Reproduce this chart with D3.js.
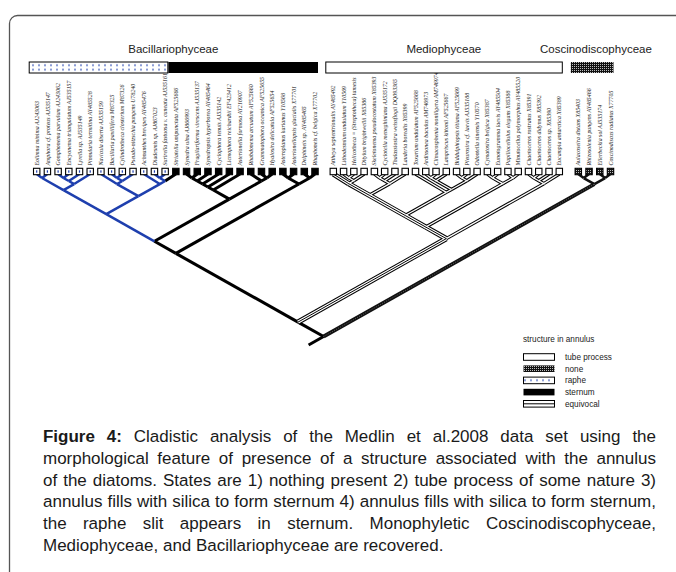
<!DOCTYPE html>
<html><head><meta charset="utf-8">
<script src="https://cdn.jsdelivr.net/npm/d3@7"></script>
<style>body{margin:0;background:#fff}svg{display:block}</style>
</head><body>
<svg id="c" width="676" height="572"></svg>
<script>
// ---------------- DATA ----------------
const groupNames = ["Bacillariophyceae", "Mediophyceae", "Coscinodiscophyceae"];
const bacillariophyceae = [
 "Eolimna minima AJ243063","Amphora cf. proteus AJ535147","Gomphonema parvulum AJ243062",
 "Encyonema triangulatum AJ535157","Lyrella sp. AJ535149","Pinnularia termitina AY485528",
 "Navicula diserta AJ535159","Bacillaria paxillifera M87325","Cylindrotheca closterium M87326",
 "Pseudo-nitzschia pungens U78240","Achnanthes brevipes AY485476","Diadesmis sp. AJ867023",
 "Surirella fastuosa v. cuneata AJ535161","Striatella unipunctata AF525666","Synedra ulna AJ866993",
 "Fragilariforma virescens AJ535137","Synedropsis hyperborea AY485464","Cyclophora tenuis AJ535142",
 "Licmophora reichardtii EF423412","Asterionella formosa AY216907","Rhabdonema arcuatum AF525660",
 "Grammatophora oceanica AF525655","Hyalosira delicatula AF525654","Asteroplanus karianus Y10568",
 "Asterionellopsis glacialis X77701","Delphineis sp. AY485465","Rhaphoneis cf. belgica X77702"
];
const mediophyceae = [
 "Attheya septentrionalis AY485492","Lithodesmium undulatum Y10569","Helicotheca = (Streptotheca) tamesis",
 "Ditylum brightwellii X85386","Skeletonema pseudocostatum X85393","Cyclotella meneghiniana AJ535172",
 "Thalassiosira weissflogii DQ093365","Lauderia borealis X85399","Toxarium undulatum AF525668",
 "Ardissonea baculus AM746973","Climacosphenia moniligera AM746974","Lampriscus kittonii AF525667",
 "Biddulphiopsis titiana AF525669","Pleurosira cf. laevis AJ535188","Odontella sinensis Y10570",
 "Cymatosira belgica X85387","Eunotogramma laevis AY485504","Papiliocellulus elegans X85388",
 "Minutocellus polymorphus AY485520","Chaetoceros rostratus X85391","Chaetoceros didymus X85392",
 "Chaetoceros sp. X85390","Eucampia antarctica X85389"
];
const coscinodiscophyceae = [
 "Aulacoseira distans X85403","Rhizosolenia pungens AY485466","Ellerbeckia sol AJ535174","Coscinodiscus radiatus X77705"
];
// terminal states: R raphe, S sternum, T tube process, N none, E equivocal
const bacillStates = ["R","R","R","R","R","R","R","R","R","R","R","R","R","S","S","S","S","S","S","S","S","S","S","S","S","S","S"];
const medioStates = Array.from({length: 23}, () => "T");
const coscStates = ["N","N","N","N"];
// topology (tip indices; letter after a clade = state of the branch below it)
const raphidClade = "(((0,1)R,(((2,3)R,4)R,5)R)R,((6,((7,8)R,9)R)R,(10,((11,12)R,13)R)R)R)R";
const araphidClade = "((((((14,15)S,16)S,17)S,18)S,19)S,(20,(21,22)S)S)S";
const basalBacill = "((23,24)S,(25,26)S)S";
const medioA = "((27E,((28,29)T,30)T)E,(((31,32)T,33)T,34)T)E";
const medioB = "(35,(((36,37)T,38)T,((39,40)T,41)T)T)T";
const medioC = "((42,43)T,(44,45)T)T";
const medioD = "(((46,47)T,48)T,49)T";
const coscClade = "((50,51)N,(52,53)N)N";
const legendItems = ["tube process", "none", "raphe", "sternum", "equivocal"];
const legendStates = ["T", "N", "R", "S", "E"];
const legendTitle = "structure in annulus";
const captionLines = [
 "Figure 4: Cladistic analysis of the Medlin et al.2008 data set using the",
 "morphological feature of presence of a structure associated with the annulus",
 "of the diatoms. States are 1) nothing present 2) tube process of some nature 3)",
 "annulus fills with silica to form sternum 4) annulus fills with silica to form sternum,",
 "the raphe slit appears in sternum. Monophyletic Coscinodiscophyceae,",
 "Mediophyceae, and Bacillariophyceae are recovered."
];
const captionBold = "Figure 4:";

// ---------------- BUILD ----------------
const taxa = bacillariophyceae.concat(mediophyceae, coscinodiscophyceae);
const tipStates = bacillStates.concat(medioStates, coscStates);
const groups = [bacillariophyceae, mediophyceae, coscinodiscophyceae];
const newick = "(((" + "(" + raphidClade + "," + araphidClade + ")S," + basalBacill + ")S," +
  "(((" + medioA + "," + medioB + ")E," + medioC + ")E," + medioD + ")E)S," + coscClade + ")S";

function parseNewick(s) {
  let i = 0;
  function node() {
    if (s[i] === "(") {
      i++;
      const children = [node()];
      while (s[i] === ",") { i++; children.push(node()); }
      i++;
      let lab = ""; while (i < s.length && /[A-Z]/.test(s[i])) lab += s[i++];
      return {children, code: lab};
    }
    let num = ""; while (/[0-9]/.test(s[i])) num += s[i++];
    let lab = ""; while (i < s.length && /[A-Z]/.test(s[i])) lab += s[i++];
    return {tip: +num, code: lab || null};
  }
  return node();
}

const svg = d3.select("#c");
const defs = svg.append("defs");
const chk = defs.append("pattern").attr("id", "checker").attr("patternUnits", "userSpaceOnUse").attr("width", 2).attr("height", 2);
chk.append("rect").attr("width", 2).attr("height", 2).attr("fill", "#111");
chk.append("rect").attr("width", 1).attr("height", 1).attr("fill", "#bbb");
const BLUE = "#1e3fae";
const rp = defs.append("pattern").attr("id", "raphe").attr("patternUnits", "userSpaceOnUse").attr("width", 6).attr("height", 4.5);
rp.append("rect").attr("width", 6).attr("height", 4.5).attr("fill", "#fff");
rp.append("rect").attr("x", 2.4).attr("y", 1.3).attr("width", 1.2).attr("height", 1.8).attr("fill", BLUE);

// frame
svg.append("rect").attr("x", 9.5).attr("y", 15.5).attr("width", 720).attr("height", 620).attr("rx", 8)
  .attr("fill", "none").attr("stroke", "#555").attr("stroke-width", 1.3);

// scales
const n1 = bacillariophyceae.length, n2 = mediophyceae.length, n3 = coscinodiscophyceae.length;
const xTip = d3.scaleLinear()
  .domain([0, n1 - 1, n1, n1 + n2 - 1, n1 + n2, n1 + n2 + n3 - 1])
  .range([36.7, 315, 333.3, 559.3, 578.3, 610.5]);
const TIPY = 175;
const yHalfSpan = d3.scaleLinear().domain([0, 300]).range([TIPY, TIPY + 0.563 * 300]);

const root = d3.hierarchy(parseNewick(newick), d => d.children);
root.eachAfter(d => {
  if (!d.children) { d.lo = d.hi = xTip(d.data.tip); }
  else { d.lo = d3.min(d.children, c => c.lo); d.hi = d3.max(d.children, c => c.hi); }
  d.px = (d.lo + d.hi) / 2;
  d.py = yHalfSpan((d.hi - d.lo) / 2);
  d.st = d.data.code || tipStates[d.data.tip];
});

const edges = root.descendants().filter(d => d.parent).map(d => ({
  x1: d.parent.px, y1: d.parent.py, x2: d.px, y2: d.children ? d.py : TIPY - 1, st: d.st,
  main: d.depth === 1
}));
// root stub
edges.push({x1: root.px, y1: root.py, x2: root.px - 15, y2: root.py + 15 * 0.563, st: "S", main: true});

const lineGen = d3.line().x(p => p[0]).y(p => p[1]);
const tree = svg.append("g").attr("fill", "none");
function drawLayer(filter, color, width, dash) {
  const sel = tree.append("g").selectAll("path").data(edges.filter(filter)).join("path");
  sel.attr("d", d => lineGen([[d.x1, d.y1], [d.x2, d.y2]]))
    .attr("fill", "none").attr("stroke", color).attr("stroke-width", width);
  if (dash) sel.attr("stroke-dasharray", dash);
}
drawLayer(d => d.st === "S", "#000", 3);
drawLayer(d => d.st === "T", "#000", 3.4);
drawLayer(d => d.st === "E", "#000", 5.2);
drawLayer(d => d.st === "T", "#fff", 1.3);
drawLayer(d => d.st === "E", "#fff", 3.2);
drawLayer(d => d.st === "E", "#000", 1);
drawLayer(d => d.st === "R", BLUE, 2.5);
drawLayer(d => d.st === "N" && !d.main, "#111", 2.6);

// tip boxes
const leaves = root.leaves();
const boxes = svg.append("g");
leaves.forEach(d => {
  const st = tipStates[d.data.tip];
  const fill = st === "S" ? "#000" : st === "N" ? "url(#checker)" : "#fff";
  boxes.append("rect").attr("x", d.px - 3.2).attr("y", 168.3).attr("width", 6.4).attr("height", 6.4)
    .attr("fill", fill).attr("stroke", "#000").attr("stroke-width", 1.1);
  if (st === "R") boxes.append("rect").attr("x", d.px - 0.6).attr("y", 170.3).attr("width", 1.2).attr("height", 2.4).attr("fill", BLUE);
});

// tip labels
svg.append("g").attr("font-family", "'Liberation Serif','Times New Roman',serif").attr("font-style", "italic")
  .attr("font-size", 5.9).attr("fill", "#222")
  .selectAll("text").data(leaves).join("text")
  .attr("transform", d => `translate(${d.px + 2.1},165.5) rotate(-90)`)
  .text(d => taxa[d.data.tip]);

// swatch drawer
function swatch(g, st, x, y, w, h) {
  if (st === "T") g.append("rect").attr("x", x).attr("y", y).attr("width", w).attr("height", h).attr("fill", "#fff").attr("stroke", "#000").attr("stroke-width", 1);
  if (st === "N") g.append("rect").attr("x", x).attr("y", y).attr("width", w).attr("height", h).attr("fill", "url(#checker)");
  if (st === "R") g.append("rect").attr("x", x).attr("y", y).attr("width", w).attr("height", h).attr("fill", "url(#raphe)").attr("stroke", "#000").attr("stroke-width", 1);
  if (st === "S") g.append("rect").attr("x", x).attr("y", y).attr("width", w).attr("height", h).attr("fill", "#000");
  if (st === "E") {
    g.append("rect").attr("x", x).attr("y", y).attr("width", w).attr("height", h).attr("fill", "#fff").attr("stroke", "#000").attr("stroke-width", 1);
    g.append("line").attr("x1", x).attr("x2", x + w).attr("y1", y + h / 2).attr("y2", y + h / 2).attr("stroke", "#000").attr("stroke-width", 1);
  }
}

// group bars and names
const bars = svg.append("g");
let start = 0;
groups.forEach((grp, gi) => {
  const i0 = start, i1 = start + grp.length - 1;
  const x0 = xTip(i0) - 8, x1 = xTip(i1) + 3;
  let runStart = i0;
  for (let i = i0; i <= i1; i++) {
    if (i === i1 || tipStates[i + 1] !== tipStates[runStart]) {
      const a = runStart === i0 ? x0 : xTip(runStart) - 8;
      const b = i === i1 ? x1 : xTip(i + 1) - 8;
      swatch(bars, tipStates[runStart], a + 0.5, 62, b - a - 0.5, 11);
      runStart = i + 1;
    }
  }
  bars.append("text").attr("x", (x0 + x1) / 2 + (gi === 2 ? 4 : 0)).attr("y", 53).attr("text-anchor", "middle")
    .attr("font-family", "'Liberation Sans',Arial,sans-serif").attr("font-size", 11.5).attr("fill", "#222")
    .text(groupNames[gi]);
  start += grp.length;
});

// legend
const lg = svg.append("g").attr("font-family", "'Liberation Sans',Arial,sans-serif").attr("font-size", 8.2).attr("fill", "#222");
lg.append("text").attr("x", 523).attr("y", 342).text(legendTitle);
legendItems.forEach((name, i) => {
  const cy = 357 + i * 11.7;
  swatch(lg, legendStates[i], 523.5, cy - 3.3, 31, 6.6);
  lg.append("text").attr("x", 565).attr("y", cy + 3).text(name);
});

// caption (justified)
const capFont = "'Liberation Sans Narrow','Arial Narrow','Liberation Sans',Arial,sans-serif";
const capG = svg.append("g").attr("font-family", capFont).attr("font-size", 17).attr("fill", "#1a1a1a");
const capX0 = 43, capX1 = 656, capY0 = 442, capDy = 21.8;
const boldCount = captionBold.split(" ").length;
function measure(word, bold) {
  const t = capG.append("text").attr("font-weight", bold ? "bold" : null).text(word);
  const w = t.node().getComputedTextLength(); t.remove(); return w;
}
const spaceW = measure("a a") - measure("aa");
const lineWords = captionLines.map(l => l.split(" "));
const tight = lineWords[3];
const natTight = d3.sum(tight, w => measure(w)) + spaceW * (tight.length - 1);
const k = (capX1 - capX0 - 4) / natTight;
lineWords.forEach((words, i) => {
  const isLast = i === lineWords.length - 1;
  const ws = words.map((w, j) => measure(w, i === 0 && j < boldCount) * k);
  const total = d3.sum(ws);
  const gap = isLast ? spaceW * k : (capX1 - capX0 - total) / (words.length - 1);
  let x = capX0;
  const y = capY0 + i * capDy;
  words.forEach((w, j) => {
    capG.append("text").attr("transform", `translate(${x},${y}) scale(${k},1)`)
      .attr("font-weight", i === 0 && j < boldCount ? "bold" : null).text(w);
    x += ws[j] + gap;
  });
});

// the basal branch to Coscinodiscophyceae, drawn last on top
const coscNode = root.children[root.children.length - 1];
const basal = svg.append("g").attr("fill", "none");
basal.append("path").attr("d", lineGen([[root.px, root.py], [coscNode.px, coscNode.py]]))
  .attr("stroke", "#111").attr("stroke-width", 3.8);
basal.append("path").attr("d", lineGen([[root.px, root.py], [coscNode.px, coscNode.py]]))
  .attr("stroke", "#8a8a8a").attr("stroke-width", 0.8).attr("stroke-dasharray", "0.8,1.6");
</script>
</body></html>
